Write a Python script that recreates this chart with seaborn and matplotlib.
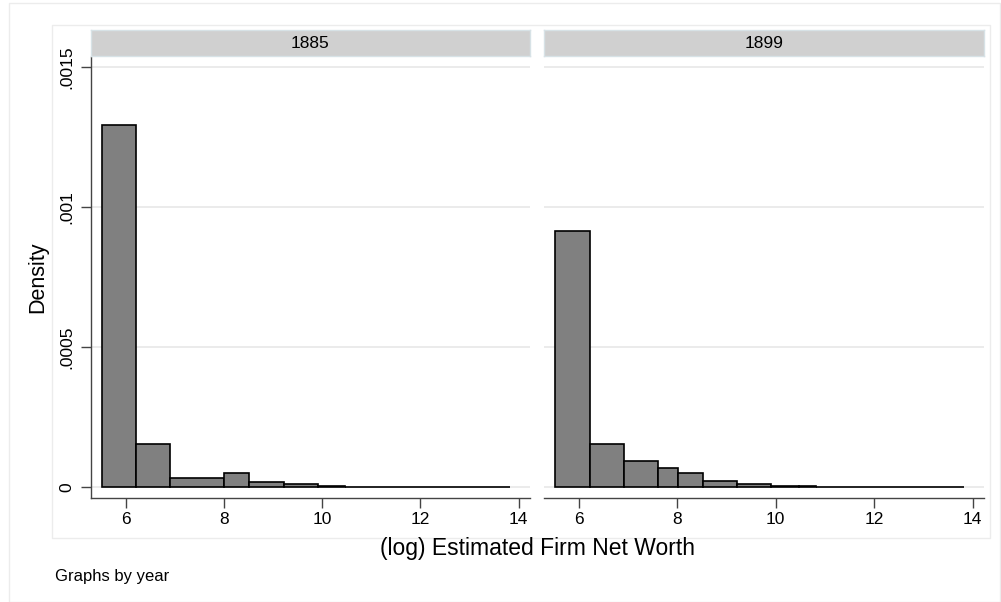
import numpy as np
import pandas as pd
import matplotlib
matplotlib.use("Agg")
import matplotlib.pyplot as plt
from matplotlib.patches import Rectangle
import seaborn as sns

# Rating-class bounds (dollars) used as histogram bin edges, per year
bounds_1885 = [250, 500, 1000, 3000, 5000, 10000, 20000, 35000, 75000,
               125000, 300000, 500000, 1000000]
bounds_1899 = [250, 500, 1000, 2000, 3000, 5000, 10000, 20000, 35000, 50000,
               75000, 125000, 200000, 300000, 500000, 1000000]

# Bar heights (density) for each bin
density_1885 = [1.293e-3, 1.54e-4, 3.4e-5, 5.0e-5, 1.8e-5, 1.07e-5, 5.7e-6,
                2.5e-6, 1.5e-6, 1.1e-6, 0.8e-6, 0.4e-6]
density_1899 = [9.15e-4, 1.54e-4, 9.3e-5, 7.0e-5, 5.2e-5, 2.36e-5, 1.07e-5,
                5.0e-6, 3.8e-6, 2.3e-6, 1.6e-6, 1.2e-6, 1.0e-6, 0.7e-6, 0.4e-6]

years = ["1885", "1899"]
xticks = [6, 8, 10, 12, 14]
yticks = [0, 0.0005, 0.001, 0.0015]
ytick_labels = ["0", ".0005", ".001", ".0015"]

panels = {
    "1885": (bounds_1885, density_1885),
    "1899": (bounds_1899, density_1899),
}

sns.set_theme(style="white")
plt.rcParams["font.family"] = ["Liberation Sans", "DejaVu Sans"]

W, H = 1001, 602
fig = plt.figure(figsize=(W / 100, H / 100), dpi=100)


def px_box(x0, y0, x1, y1):
    """Convert a pixel box (top-left origin) to figure fractions."""
    return [x0 / W, 1 - y1 / H, (x1 - x0) / W, (y1 - y0) / H]


# Graph region and plot region outlines
fig.patches.append(Rectangle((9 / W, 0), (W - 10) / W, 1 - 3 / H,
                             transform=fig.transFigure, fill=False,
                             edgecolor="#ececec", linewidth=1))
fig.patches.append(Rectangle((52 / W, 1 - 538 / H), (990 - 52) / W, (538 - 25) / H,
                             transform=fig.transFigure, fill=False,
                             edgecolor="#ececec", linewidth=1))

panel_px = {"1885": (91, 530), "1899": (544, 984)}
ax_top, ax_bot = 57, 498
strip_top, strip_bot = 30, 56

xlim = (5.29, 14.23)
ylim = (-3.82e-5, 1.5368e-3)

for i, year in enumerate(years):
    bounds, dens = panels[year]
    edges = np.log(np.array(bounds, dtype=float))
    mids = (edges[:-1] + edges[1:]) / 2
    df = pd.DataFrame({"networth": mids, "density": dens})

    x0, x1 = panel_px[year]
    ax = fig.add_axes(px_box(x0, ax_top, x1, ax_bot))
    ax.set_facecolor("white")

    sns.histplot(data=df, x="networth", weights="density", bins=list(edges),
                 stat="count", ax=ax, color="#808080", edgecolor="black",
                 linewidth=1.2, alpha=1.0, zorder=3)

    ax.set_xlim(*xlim)
    ax.set_ylim(*ylim)
    ax.set_xlabel("")
    ax.set_ylabel("")

    for yv in yticks:
        ax.axhline(yv, color="#e8e8e8", linewidth=1.2, zorder=1)

    ax.set_xticks(xticks)
    ax.set_xticklabels([str(t) for t in xticks])
    ax.tick_params(axis="x", bottom=True, length=7, width=1, color="#444444",
                   labelsize=12.5, pad=3, labelcolor="black")

    for side in ["top", "right"]:
        ax.spines[side].set_visible(False)
    ax.spines["bottom"].set_color("#444444")
    ax.spines["bottom"].set_linewidth(1)

    if i == 0:
        ax.set_yticks(yticks)
        ax.set_yticklabels(ytick_labels, rotation=90, va="center")
        ax.tick_params(axis="y", left=True, length=7, width=1, color="#444444",
                       labelsize=12.5, pad=5, labelcolor="black")
        ax.spines["left"].set_color("#444444")
        ax.spines["left"].set_linewidth(1)
    else:
        ax.set_yticks([])
        ax.spines["left"].set_visible(False)

    # Facet header strip
    sax = fig.add_axes(px_box(x0, strip_top, x1, strip_bot))
    sax.set_xticks([])
    sax.set_yticks([])
    sax.set_facecolor("#d0d0d0")
    for sp in sax.spines.values():
        sp.set_color("#d7e2e6")
        sp.set_linewidth(1)
    sax.text(0.5, 0.5, year, ha="center", va="center", fontsize=12.5,
             color="black", transform=sax.transAxes)

fig.text(38 / W, 1 - 277 / H, "Density", rotation=90, ha="center", va="center",
         fontsize=15.5, color="black")
fig.text(537 / W, 1 - 548 / H, "(log) Estimated Firm Net Worth", ha="center",
         va="center", fontsize=16.5, color="black")
fig.text(55 / W, 1 - 577 / H, "Graphs by year", ha="left", va="center",
         fontsize=12, color="black")

fig.savefig("out.png", dpi=100, facecolor="white")
